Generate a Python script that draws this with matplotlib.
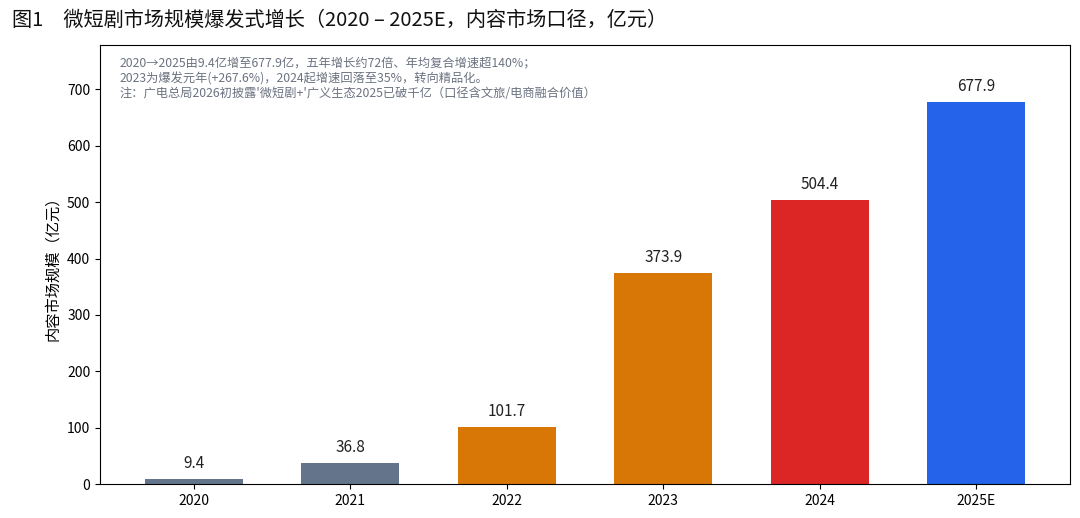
import matplotlib
matplotlib.use("Agg")
import matplotlib.pyplot as plt

plt.rcParams["font.family"] = ["Noto Sans CJK SC", "DejaVu Sans"]

years = ["2020", "2021", "2022", "2023", "2024", "2025E"]
market = [9.4, 36.8, 101.7, 373.9, 504.4, 677.9]
bar_colors = ["#64748b", "#64748b", "#d97706", "#d97706", "#dc2626", "#2563eb"]

title = "图1　微短剧市场规模爆发式增长（2020 – 2025E，内容市场口径，亿元）"
ylabel = "内容市场规模（亿元）"
note = (
    "2020→2025由9.4亿增至677.9亿，五年增长约72倍、年均复合增速超140%；\n"
    "2023为爆发元年(+267.6%)，2024起增速回落至35%，转向精品化。\n"
    "注：广电总局2026初披露'微短剧+'广义生态2025已破千亿（口径含文旅/电商融合价值）"
)

fig = plt.figure(figsize=(10.8, 5.18), dpi=100)
ax = fig.add_axes([100 / 1080, 34 / 518, 970 / 1080, 439.4 / 518])

x = list(range(len(years)))
ax.bar(x, market, width=0.625, color=bar_colors)
for xi, v in zip(x, market):
    ax.annotate(f"{v:.1f}", (xi, v), xytext=(0, 5), textcoords="offset points",
                ha="center", va="bottom", fontsize=11, color="#222222")

ax.set_xticks(x)
ax.set_xticklabels(years)
ax.set_xlim(-0.6, len(years) - 0.4)
ax.set_ylim(0, max(market) * 1.15)
ax.set_yticks(range(0, 701, 100))
ax.tick_params(labelsize=10)
ax.set_ylabel(ylabel, fontsize=11)

ax.text(0.02, 0.97, note, transform=ax.transAxes, ha="left", va="top",
        fontsize=8.8, color="#6b7280", linespacing=1.15)

fig.text(12 / 1080, 1 - 20 / 518, title, ha="left", va="center", fontsize=14.5,
         color="#111111")

fig.savefig("out.png", dpi=100)
